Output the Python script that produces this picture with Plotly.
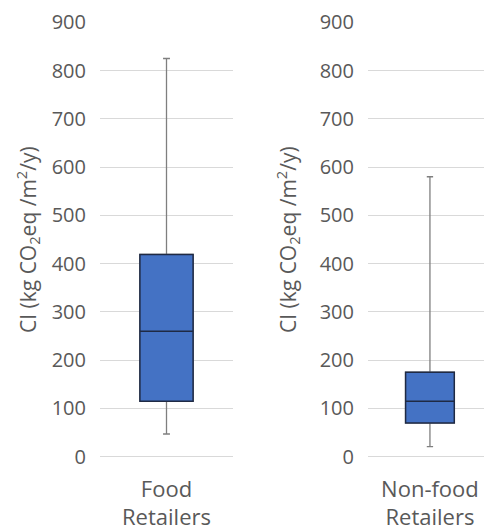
import plotly.graph_objects as go

categories = ["Food<br>Retailers", "Non-food<br>Retailers"]
lower_whisker = [47, 21]
q1 = [115, 70]
median = [260, 115]
q3 = [419, 175]
upper_whisker = [825, 580]
y_ticks = [0, 100, 200, 300, 400, 500, 600, 700, 800, 900]
y_title = "CI (kg CO<sub>2</sub>eq /m<sup>2</sup>/y)"

FONT = "Open Sans"
TXT = "#595959"
W, H = 484, 531

fig = go.Figure()

x_domains = [[100 / W, 233 / W], [368 / W, 1.0]]
x_ranges = [[-0.5, 0.5], [-0.534, 0.466]]
box_widths = [0.40, 0.42]
title_x = [27 / W, 287 / W]

for i, cat in enumerate(categories):
    xa = "x" if i == 0 else "x2"
    ya = "y" if i == 0 else "y2"
    fig.add_trace(go.Box(
        x=[cat], q1=[q1[i]], median=[median[i]], q3=[q3[i]],
        lowerfence=[lower_whisker[i]], upperfence=[upper_whisker[i]],
        xaxis=xa, yaxis=ya, width=box_widths[i], whiskerwidth=0.13,
        fillcolor="#4472C4", line=dict(color="#7f7f7f", width=1.3),
        boxpoints=False, hoverinfo="skip", showlegend=False,
    ))
    fig.add_trace(go.Box(
        x=[cat], q1=[q1[i]], median=[median[i]], q3=[q3[i]],
        lowerfence=[q1[i]], upperfence=[q3[i]],
        xaxis=xa, yaxis=ya, width=box_widths[i], whiskerwidth=0,
        fillcolor="#4472C4", line=dict(color="#1f2a44", width=1.5),
        boxpoints=False, hoverinfo="skip", showlegend=False,
    ))
    fig.add_annotation(
        text=y_title, textangle=-90, x=title_x[i], y=1 - 240 / H,
        xref="paper", yref="paper", showarrow=False, xanchor="center", yanchor="middle",
        font=dict(family=FONT, size=21, color=TXT),
    )

ydom = [(H - 456.7) / H, (H - 22.3) / H]
for i in range(2):
    sfx = "" if i == 0 else "2"
    fig.update_layout(**{
        f"xaxis{sfx}": dict(
            domain=x_domains[i], range=x_ranges[i], type="category",
            showgrid=False, zeroline=False, showline=False, ticks="",
            tickfont=dict(family=FONT, size=22, color=TXT),
            ticklabelstandoff=17, anchor="y" + sfx, fixedrange=True,
            automargin=False,
        ),
        f"yaxis{sfx}": dict(
            domain=ydom, range=[0, 900], tickvals=y_ticks,
            showgrid=True, gridcolor="#d9d9d9", gridwidth=1,
            zeroline=True, zerolinecolor="#d9d9d9", zerolinewidth=1,
            showline=False, ticks="",
            tickfont=dict(family=FONT, size=20, color=TXT),
            ticklabelstandoff=13, anchor="x" + sfx, fixedrange=True,
            automargin=False,
        ),
    })

fig.update_layout(
    width=W, height=H, margin=dict(l=0, r=0, t=0, b=0, autoexpand=False),
    paper_bgcolor="white", plot_bgcolor="white",
    boxmode="overlay",
)

fig.write_html("out.html", config={"displayModeBar": False},
               post_script="document.body.style.margin='0px';")
